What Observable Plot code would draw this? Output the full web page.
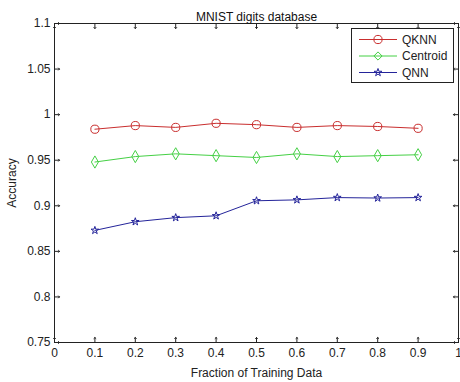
<!DOCTYPE html>
<html>
<head>
<meta charset="utf-8">
<script src="https://cdn.jsdelivr.net/npm/d3@7"></script>
<script src="https://cdn.jsdelivr.net/npm/@observablehq/plot@0.6"></script>
<style>
  html, body { margin: 0; padding: 0; background: #fff; }
  #wrap { position: relative; width: 460px; height: 382px; overflow: hidden; font-family: "Liberation Sans", Arial, sans-serif; }
  #legend { position: absolute; left: 351px; top: 28px; width: 103px; height: 55px; background: #fff; border: 1px solid #222; box-sizing: border-box; }
</style>
</head>
<body>
<div id="wrap"><div id="legend"></div></div>
<script>
const title = "MNIST digits database";
const xLabel = "Fraction of Training Data";
const yLabel = "Accuracy";
const fractions = [0.1, 0.2, 0.3, 0.4, 0.5, 0.6, 0.7, 0.8, 0.9];
const qknn     = [0.984, 0.988, 0.986, 0.9905, 0.989, 0.986, 0.988, 0.987, 0.985];
const centroid = [0.948, 0.954, 0.957, 0.955, 0.953, 0.957, 0.954, 0.955, 0.956];
const qnn      = [0.873, 0.8825, 0.887, 0.889, 0.9055, 0.9065, 0.909, 0.9085, 0.909];
const seriesNames = ["QKNN", "Centroid", "QNN"];
const xTicks = [0, 0.1, 0.2, 0.3, 0.4, 0.5, 0.6, 0.7, 0.8, 0.9, 1];
const yTicks = [0.75, 0.8, 0.85, 0.9, 0.95, 1, 1.05, 1.1];

const colors = {QKNN: "#c92e2e", Centroid: "#45d045", QNN: "#24249a"};
const symbols = {QKNN: "circle", Centroid: "diamond", QNN: "star"};
const sizes = {QKNN: 4.1, Centroid: 3.7, QNN: 2.4};

const values = {QKNN: qknn, Centroid: centroid, QNN: qnn};
const rows = seriesNames.flatMap(s => fractions.map((f, i) => ({series: s, x: f, y: values[s][i]})));

const font = "Liberation Sans, Arial, sans-serif";

const marks = [
  Plot.frame({stroke: "#222", strokeWidth: 1}),
  Plot.axisX(xTicks, {tickSize: 0, tickPadding: 6, tickFormat: d => String(d), fontSize: 12, fill: "#222",
    label: xLabel, labelAnchor: "center", labelArrow: "none", labelOffset: 34}),
  Plot.axisY(yTicks, {tickSize: 0, tickPadding: 4, tickFormat: d => String(d), fontSize: 12, fill: "#222",
    label: yLabel, labelAnchor: "center", labelArrow: "none", labelOffset: 47}),
  // inward ticks on all four sides
  Plot.vector(xTicks, {x: d => d, frameAnchor: "bottom", anchor: "start", length: 5, rotate: 0, stroke: "#222", strokeWidth: 1}),
  Plot.vector(xTicks, {x: d => d, frameAnchor: "top", anchor: "start", length: 5, rotate: 180, stroke: "#222", strokeWidth: 1}),
  Plot.vector(yTicks, {y: d => d, frameAnchor: "left", anchor: "start", length: 5, rotate: 90, stroke: "#222", strokeWidth: 1}),
  Plot.vector(yTicks, {y: d => d, frameAnchor: "right", anchor: "start", length: 5, rotate: 270, stroke: "#222", strokeWidth: 1}),
  Plot.text([title], {frameAnchor: "top", dy: -11, fontSize: 12, fill: "#111"})
];
for (const s of seriesNames) {
  const data = rows.filter(d => d.series === s);
  marks.push(Plot.line(data, {x: "x", y: "y", stroke: colors[s], strokeWidth: 1}));
  marks.push(Plot.dot(data, {x: "x", y: "y", symbol: symbols[s], r: sizes[s], stroke: colors[s], fill: "none", strokeWidth: 1}));
}

const chart = Plot.plot({
  width: 460,
  height: 382,
  marginLeft: 54,
  marginRight: 2,
  marginTop: 23,
  marginBottom: 40,
  style: {fontFamily: font, fontSize: "12px", background: "#fff", color: "#222"},
  x: {domain: [0, 1]},
  y: {domain: [0.75, 1.1]},
  marks
});
document.getElementById("wrap").insertBefore(chart, document.getElementById("legend"));

// legend
const lg = d3.select("#legend").append("svg").attr("width", 101).attr("height", 53)
  .style("font-family", font).style("font-size", "12px");
const symMap = {circle: d3.symbolCircle, diamond: d3.symbolDiamond2, star: d3.symbolStar};
seriesNames.forEach((s, i) => {
  const yy = 10.5 + i * 16.5;
  lg.append("line").attr("x1", 7).attr("x2", 45).attr("y1", yy).attr("y2", yy)
    .attr("stroke", colors[s]).attr("stroke-width", 1);
  lg.append("path").attr("d", d3.symbol(symMap[symbols[s]], Math.PI * sizes[s] * sizes[s])())
    .attr("transform", `translate(26,${yy})`).attr("fill", "none").attr("stroke", colors[s])
    .attr("stroke-width", 1);
  lg.append("text").attr("x", 50).attr("y", yy).attr("dy", "0.35em").attr("fill", "#222").text(s);
});
</script>
</body>
</html>
